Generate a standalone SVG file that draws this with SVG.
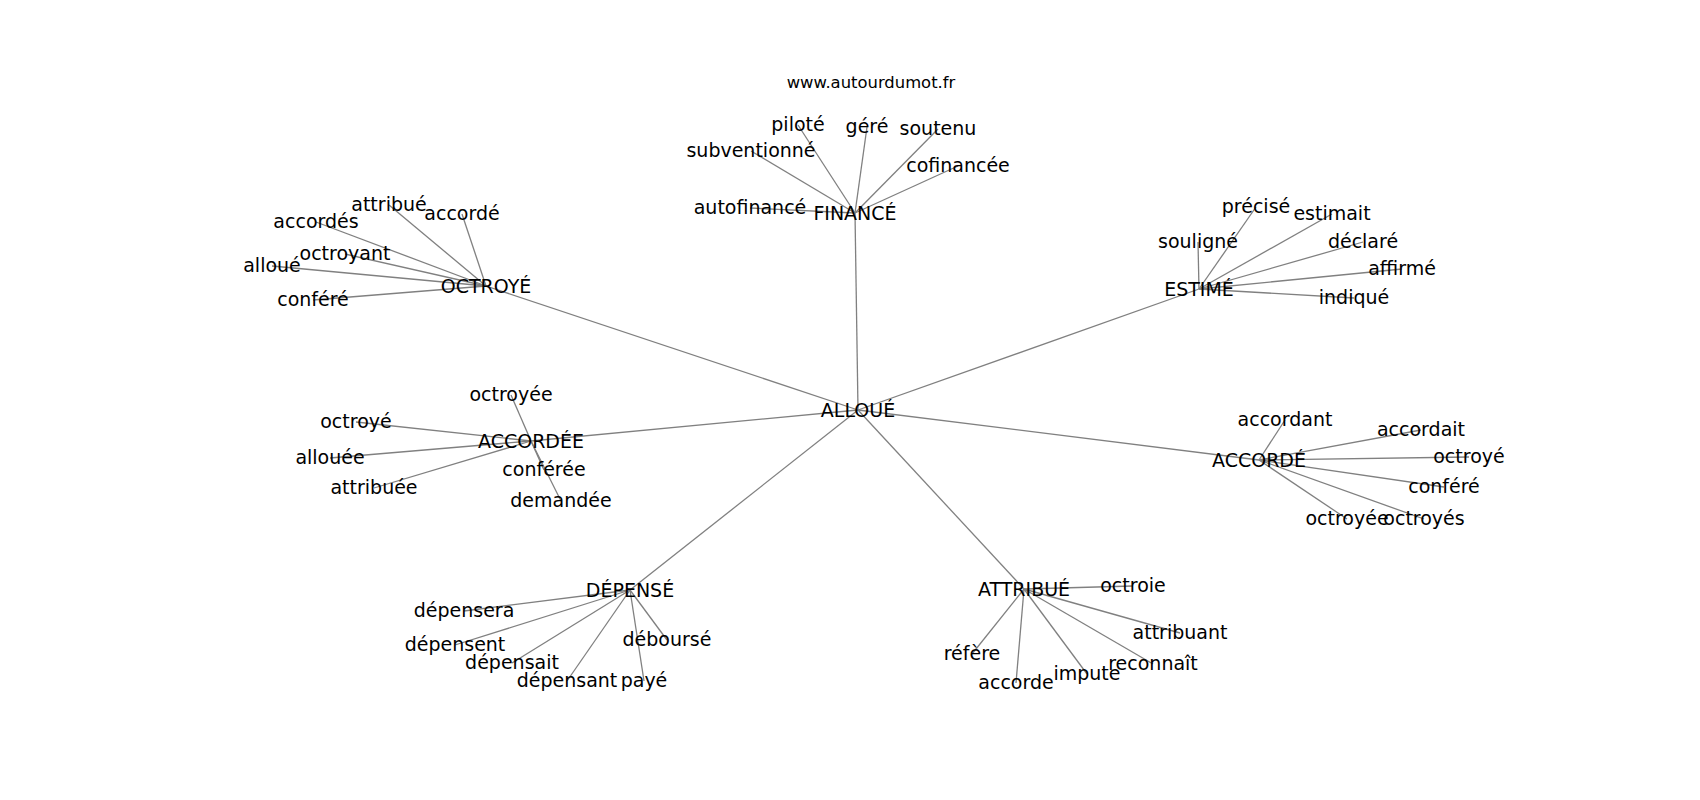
<svg xmlns="http://www.w3.org/2000/svg" width="1700" height="800" viewBox="0 0 1700 800">
<style>
.e line{stroke:#808080;stroke-width:1.3;fill:none}
text{font-family:"DejaVu Sans","Liberation Sans",sans-serif;font-size:19px;fill:#000;text-anchor:middle}
.title{font-size:16.4px}
</style>
<rect width="1700" height="800" fill="#fff"/>
<g id="connectors" class="e">
<line x1="858" y1="410" x2="855" y2="213"/>
<line x1="858" y1="410" x2="486" y2="286"/>
<line x1="858" y1="410" x2="1199" y2="289"/>
<line x1="858" y1="410" x2="531" y2="441"/>
<line x1="858" y1="410" x2="1259" y2="460"/>
<line x1="858" y1="410" x2="630" y2="590"/>
<line x1="858" y1="410" x2="1024" y2="589"/>
<line x1="855" y1="213" x2="751" y2="151"/>
<line x1="855" y1="213" x2="798" y2="125"/>
<line x1="855" y1="213" x2="867" y2="127"/>
<line x1="855" y1="213" x2="938" y2="129"/>
<line x1="855" y1="213" x2="958" y2="166"/>
<line x1="855" y1="213" x2="750" y2="208"/>
<line x1="486" y1="286" x2="389" y2="205"/>
<line x1="486" y1="286" x2="462" y2="214"/>
<line x1="486" y1="286" x2="316" y2="222"/>
<line x1="486" y1="286" x2="345" y2="254"/>
<line x1="486" y1="286" x2="272" y2="266"/>
<line x1="486" y1="286" x2="313" y2="300"/>
<line x1="1199" y1="289" x2="1256" y2="207"/>
<line x1="1199" y1="289" x2="1198" y2="242"/>
<line x1="1199" y1="289" x2="1332" y2="214"/>
<line x1="1199" y1="289" x2="1363" y2="242"/>
<line x1="1199" y1="289" x2="1402" y2="269"/>
<line x1="1199" y1="289" x2="1354" y2="298"/>
<line x1="531" y1="441" x2="511" y2="395"/>
<line x1="531" y1="441" x2="356" y2="422"/>
<line x1="531" y1="441" x2="330" y2="458"/>
<line x1="531" y1="441" x2="374" y2="488"/>
<line x1="531" y1="441" x2="544" y2="470"/>
<line x1="531" y1="441" x2="561" y2="501"/>
<line x1="1259" y1="460" x2="1285" y2="420"/>
<line x1="1259" y1="460" x2="1421" y2="430"/>
<line x1="1259" y1="460" x2="1469" y2="457"/>
<line x1="1259" y1="460" x2="1444" y2="487"/>
<line x1="1259" y1="460" x2="1347" y2="519"/>
<line x1="1259" y1="460" x2="1424" y2="519"/>
<line x1="630" y1="590" x2="464" y2="611"/>
<line x1="630" y1="590" x2="455" y2="645"/>
<line x1="630" y1="590" x2="512" y2="663"/>
<line x1="630" y1="590" x2="567" y2="681"/>
<line x1="630" y1="590" x2="644" y2="681"/>
<line x1="630" y1="590" x2="667" y2="640"/>
<line x1="1024" y1="589" x2="1133" y2="586"/>
<line x1="1024" y1="589" x2="1180" y2="633"/>
<line x1="1024" y1="589" x2="1153" y2="664"/>
<line x1="1024" y1="589" x2="1087" y2="674"/>
<line x1="1024" y1="589" x2="1016" y2="683"/>
<line x1="1024" y1="589" x2="972" y2="654"/>
</g>
<text class="title" x="871" y="88">www.autourdumot.fr</text>
<g id="n-alloue"><text x="858" y="417">ALLOUÉ</text></g>
<g id="n-finance"><text x="855" y="220">FINANCÉ</text></g>
<g id="n-octroye"><text x="486" y="293">OCTROYÉ</text></g>
<g id="n-estime"><text x="1199" y="296">ESTIMÉ</text></g>
<g id="n-accordee"><text x="531" y="448">ACCORDÉE</text></g>
<g id="n-accorde"><text x="1259" y="467">ACCORDÉ</text></g>
<g id="n-depense"><text x="630" y="597">DÉPENSÉ</text></g>
<g id="n-attribue"><text x="1024" y="596">ATTRIBUÉ</text></g>
<g id="n-subventionne"><text x="751" y="157">subventionné</text></g>
<g id="n-pilote"><text x="798" y="131">piloté</text></g>
<g id="n-gere"><text x="867" y="133">géré</text></g>
<g id="n-soutenu"><text x="938" y="135">soutenu</text></g>
<g id="n-cofinancee"><text x="958" y="172">cofinancée</text></g>
<g id="n-autofinance"><text x="750" y="214">autofinancé</text></g>
<g id="n-attribue2"><text x="389" y="211">attribué</text></g>
<g id="n-accorde2"><text x="462" y="220">accordé</text></g>
<g id="n-accordes"><text x="316" y="228">accordés</text></g>
<g id="n-octroyant"><text x="345" y="260">octroyant</text></g>
<g id="n-alloue2"><text x="272" y="272">alloué</text></g>
<g id="n-confere"><text x="313" y="306">conféré</text></g>
<g id="n-precise"><text x="1256" y="213">précisé</text></g>
<g id="n-souligne"><text x="1198" y="248">souligné</text></g>
<g id="n-estimait"><text x="1332" y="220">estimait</text></g>
<g id="n-declare"><text x="1363" y="248">déclaré</text></g>
<g id="n-affirme"><text x="1402" y="275">affirmé</text></g>
<g id="n-indique"><text x="1354" y="304">indiqué</text></g>
<g id="n-octroyee"><text x="511" y="401">octroyée</text></g>
<g id="n-octroye2"><text x="356" y="428">octroyé</text></g>
<g id="n-allouee"><text x="330" y="464">allouée</text></g>
<g id="n-attribuee"><text x="374" y="494">attribuée</text></g>
<g id="n-conferee"><text x="544" y="476">conférée</text></g>
<g id="n-demandee"><text x="561" y="507">demandée</text></g>
<g id="n-accordant"><text x="1285" y="426">accordant</text></g>
<g id="n-accordait"><text x="1421" y="436">accordait</text></g>
<g id="n-octroye3"><text x="1469" y="463">octroyé</text></g>
<g id="n-confere2"><text x="1444" y="493">conféré</text></g>
<g id="n-octroyee2"><text x="1347" y="525">octroyée</text></g>
<g id="n-octroyes"><text x="1424" y="525">octroyés</text></g>
<g id="n-depensera"><text x="464" y="617">dépensera</text></g>
<g id="n-depensent"><text x="455" y="651">dépensent</text></g>
<g id="n-depensait"><text x="512" y="669">dépensait</text></g>
<g id="n-depensant"><text x="567" y="687">dépensant</text></g>
<g id="n-paye"><text x="644" y="687">payé</text></g>
<g id="n-debourse"><text x="667" y="646">déboursé</text></g>
<g id="n-octroie"><text x="1133" y="592">octroie</text></g>
<g id="n-attribuant"><text x="1180" y="639">attribuant</text></g>
<g id="n-reconnait"><text x="1153" y="670">reconnaît</text></g>
<g id="n-impute"><text x="1087" y="680">impute</text></g>
<g id="n-accorde3"><text x="1016" y="689">accorde</text></g>
<g id="n-refere"><text x="972" y="660">réfère</text></g>
</svg>
